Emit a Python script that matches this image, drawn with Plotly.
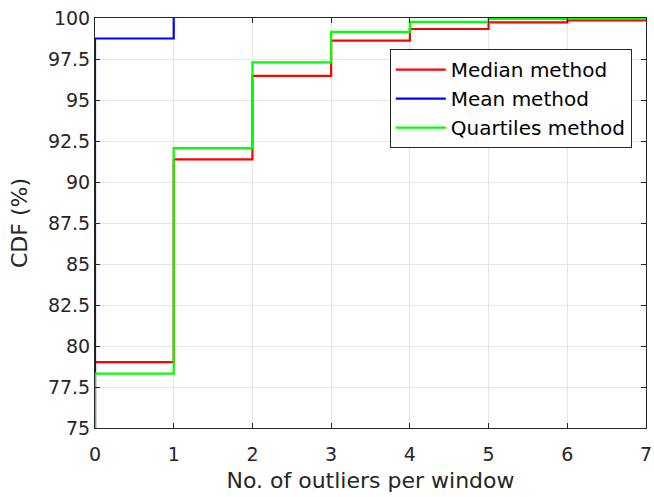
import plotly.graph_objects as go

x_vals = [0, 0, 1, 2, 3, 4, 5, 6, 7]
median_cdf = [0, 79.02, 91.38, 96.47, 98.62, 99.33, 99.73, 99.86, 99.9]
mean_x = [0, 0, 1]
mean_cdf = [0, 98.75, 100]
quartiles_cdf = [0, 78.32, 92.06, 97.29, 99.15, 99.76, 99.94, 99.98, 100]

x_ticks = [0, 1, 2, 3, 4, 5, 6, 7]
y_ticks = [75, 77.5, 80, 82.5, 85, 87.5, 90, 92.5, 95, 97.5, 100]
y_tick_text = ["75", "77.5", "80", "82.5", "85", "87.5", "90", "92.5", "95", "97.5", "100"]

font_family = "DejaVu Sans, Liberation Sans, Arial, sans-serif"
text_color = "#262626"

fig = go.Figure()
series = [
    ("Median method", x_vals, median_cdf, "#ff0000"),
    ("Mean method", mean_x, mean_cdf, "#0000ff"),
    ("Quartiles method", x_vals, quartiles_cdf, "#00ff00"),
]
for name, xs, ys, col in series:
    fig.add_trace(go.Scatter(
        x=xs, y=ys, mode="lines", name=name,
        line=dict(color=col, width=2.2, shape="hv"),
    ))

axis_common = dict(
    showline=True, linecolor=text_color, linewidth=1, mirror="ticks",
    ticks="inside", ticklen=5, tickcolor=text_color,
    showgrid=True, gridcolor="#e6e6e6", gridwidth=1,
    zeroline=False, automargin=False,
    tickfont=dict(family=font_family, size=19, color=text_color),
)

fig.update_layout(
    width=654, height=497,
    margin=dict(l=95, r=8, t=18, b=69),
    paper_bgcolor="white", plot_bgcolor="white",
    xaxis=dict(range=[0, 7], tickvals=x_ticks, ticklabelstandoff=9,
               title=dict(text="No. of outliers per window",
                          font=dict(family=font_family, size=22, color=text_color),
                          standoff=8),
               **axis_common),
    yaxis=dict(range=[75, 100], tickvals=y_ticks, ticktext=y_tick_text,
               title=dict(text="CDF (%)",
                          font=dict(family=font_family, size=22, color=text_color),
                          standoff=14),
               **axis_common),
    legend=dict(x=0.535, y=0.924, xanchor="left", yanchor="top",
                bgcolor="white", bordercolor=text_color, borderwidth=1,
                font=dict(family=font_family, size=20, color="black"),
                itemwidth=50, tracegroupgap=0),
    showlegend=True,
)

fig.write_html("out.html")
